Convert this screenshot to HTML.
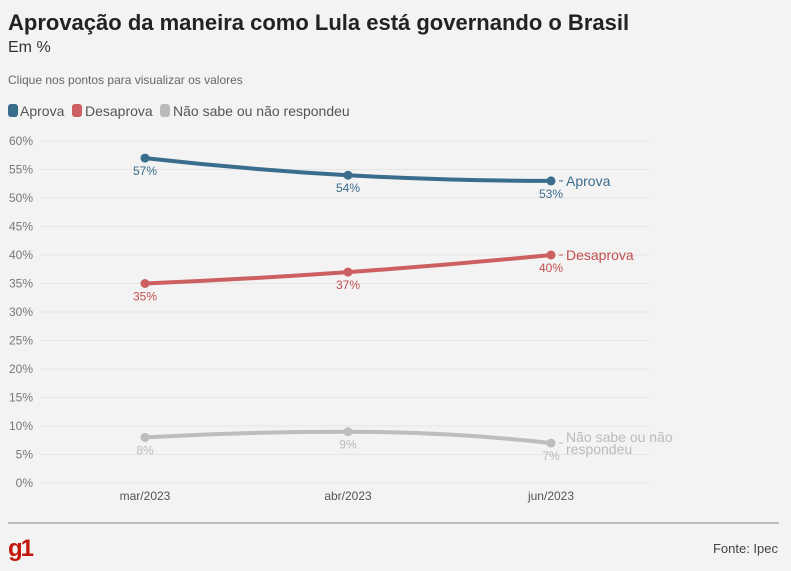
<!DOCTYPE html>
<html><head><meta charset="utf-8"><style>
body{margin:0;background:#f3f3f3;font-family:"Liberation Sans",sans-serif;}
#wrap{position:relative;width:791px;height:571px;overflow:hidden;background:#f3f3f3}
</style></head><body>
<div id="wrap">
<svg id="svg" width="791" height="571">
<text x="8" y="30" font-size="22" font-weight="bold" fill="#222">Aprovação da maneira como Lula está governando o Brasil</text>
<text x="8" y="52" font-size="16" fill="#333">Em %</text>
<text x="8" y="84" font-size="12" fill="#666">Clique nos pontos para visualizar os valores</text>
<g>
<g><rect x="8" y="104" width="10" height="13" rx="3" fill="#3a6c8c"/><text x="20" y="116" font-size="14" fill="#555">Aprova</text></g>
<g><rect x="72" y="104" width="10" height="13" rx="3" fill="#cc5f5f"/><text x="85" y="116" font-size="14" fill="#555">Desaprova</text></g>
<g><rect x="160" y="104" width="10" height="13" rx="3" fill="#bbb"/><text x="173" y="116" font-size="14" fill="#555">Não sabe ou não respondeu</text></g>
</g>
<g id="plot"></g>
<line x1="8" y1="523" x2="779" y2="523" stroke="#bbb" stroke-width="2"/>
<text x="8" y="556" font-size="24" font-weight="bold" fill="#c4170c" letter-spacing="-2">g1</text>
<text x="778" y="553" font-size="13" fill="#444" text-anchor="end">Fonte: Ipec</text>
</svg>
</div>
<script>
const categories=["mar/2023","abr/2023","jun/2023"];
const aprova=[57,54,53];
const desaprova=[35,37,40];
const naoSabe=[8,9,7];
const yTicks=[0,5,10,15,20,25,30,35,40,45,50,55,60];
const NS="http://www.w3.org/2000/svg";
const plot=document.getElementById('plot');
const x=i=>145+i*203;
const y=v=>483-v*(342/60);
function mk(t,a,p){const e=document.createElementNS(NS,t);for(const k in a)e.setAttribute(k,a[k]);(p||plot).appendChild(e);return e;}
yTicks.forEach(t=>{
 const l=mk('line',{x1:40,x2:650,y1:y(t),y2:y(t),stroke:'#e6e6e6','stroke-width':1});
 
 
 const tx=mk('text',{x:33,y:y(t)+4,'font-size':12,fill:'#777','text-anchor':'end'});
 tx.textContent=t+'%';
 
 
});
categories.forEach((c,i)=>{
 const tx=mk('text',{x:x(i),y:500,'font-size':12,fill:'#555','text-anchor':'middle'});
 tx.textContent=c;
 
 
});
function monotone(vals){
 const pts=vals.map((v,i)=>[x(i),y(v)]);const n=pts.length;
 const d=[],m=[];
 for(let i=0;i<n-1;i++)d.push((pts[i+1][1]-pts[i][1])/(pts[i+1][0]-pts[i][0]));
 m[0]=d[0];m[n-1]=d[n-2];
 for(let i=1;i<n-1;i++)m[i]=d[i-1]*d[i]<=0?0:(d[i-1]+d[i])/2;
 m[0]=2*d[0]-m[1];m[n-1]=2*d[n-2]-m[n-2];
 let s='M'+pts[0][0]+','+pts[0][1];
 for(let i=0;i<n-1;i++){const h=(pts[i+1][0]-pts[i][0])/3;
  s+=` C${pts[i][0]+h},${pts[i][1]+m[i]*h} ${pts[i+1][0]-h},${pts[i+1][1]-m[i+1]*h} ${pts[i+1][0]},${pts[i+1][1]}`;}
 return s;
}
const series=[
 {vals:aprova,color:'#3a6c8c',lab:'#3a6c8c',name:'aprova',label:['Aprova']},
 {vals:desaprova,color:'#cc5f5f',lab:'#c44f4f',name:'desaprova',label:['Desaprova']},
 {vals:naoSabe,color:'#bdbdbd',lab:'#bbb',name:'nao-sabe',label:['Não sabe ou não','respondeu']}
];
series.forEach(s=>{
 const p=mk('path',{d:monotone(s.vals),fill:'none',stroke:s.color,'stroke-width':4});
 
 
 s.vals.forEach((v,i)=>{
  const c=mk('circle',{cx:x(i),cy:y(v),r:4.5,fill:s.color});
  
  
  const t=mk('text',{x:x(i),y:y(v)+17,'font-size':12,fill:s.lab,'text-anchor':'middle'});
  t.textContent=v+'%';
  
  
 });
 const li=s.vals.length-1;
 const ly=y(s.vals[li]);
 const dash=mk('line',{x1:x(li)+8,x2:x(li)+12,y1:ly,y2:ly,stroke:s.lab,'stroke-width':1});
 
 
 const tt=mk('text',{x:x(li)+15,y:ly+5-(s.label.length-1)*6,'font-size':14,fill:s.lab});
 
 
 s.label.forEach((l,k)=>{const ts=mk('tspan',{x:x(li)+15,dy:k?12:0},tt);ts.textContent=l;});
});
</script>
</body></html>
